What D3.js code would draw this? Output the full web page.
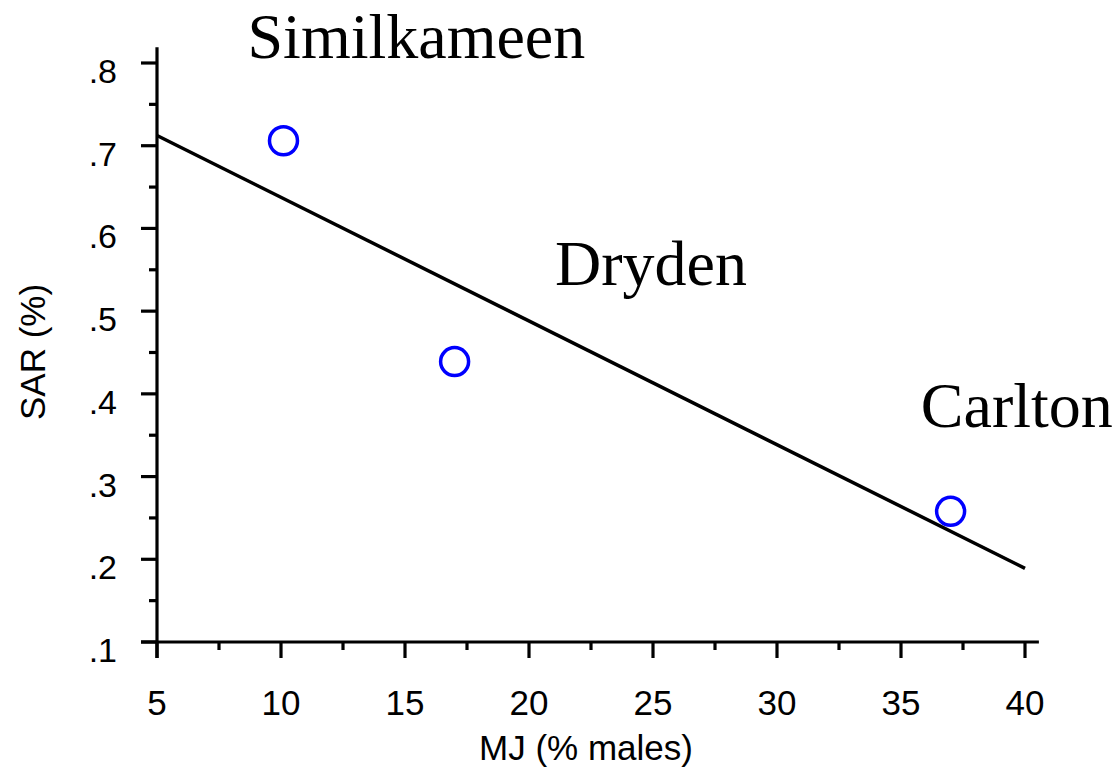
<!DOCTYPE html>
<html>
<head>
<meta charset="utf-8">
<script src="https://cdn.jsdelivr.net/npm/d3@7"></script>
<style>
  html, body { margin: 0; padding: 0; background: #fff; }
  svg { display: block; }
</style>
</head>
<body>
<svg id="chart" width="1118" height="774"></svg>
<script>
// Sites and their measurements
const sites = ["Similkameen", "Dryden", "Carlton"];
const mj = [10.1, 17.0, 37.0];      // MJ (% males)
const sar = [0.706, 0.439, 0.258];  // SAR (%)

// Site label anchor positions in data units (left edge, baseline)
const labelX = [8.65, 21.05, 35.8];
const labelY = [0.806, 0.532, 0.360];

const xTicks = [5, 10, 15, 20, 25, 30, 35, 40];
const xMinor = [7.5, 12.5, 17.5, 22.5, 27.5, 32.5, 37.5];
const yTicks = [0.1, 0.2, 0.3, 0.4, 0.5, 0.6, 0.7, 0.8];
const yMinor = [0.15, 0.25, 0.35, 0.45, 0.55, 0.65, 0.75];
const yTickLabels = [".1", ".2", ".3", ".4", ".5", ".6", ".7", ".8"];

const svg = d3.select("#chart");

const x = d3.scaleLinear().domain([5, 40]).range([157, 1025]);
const y = d3.scaleLinear().domain([0.1, 0.8]).range([642, 63]);

const sans = "'Liberation Sans', Arial, Helvetica, sans-serif";
const serif = "'Liberation Serif', 'Times New Roman', Times, serif";

// Least-squares fit line through the three sites
const mx = d3.mean(mj), my = d3.mean(sar);
const slope = d3.sum(mj.map((v, i) => (v - mx) * (sar[i] - my))) /
              d3.sum(mj.map(v => (v - mx) * (v - mx)));
const intercept = my - slope * mx;
const fitX = [5, 40];

svg.append("line")
  .attr("x1", x(fitX[0])).attr("y1", y(intercept + slope * fitX[0]))
  .attr("x2", x(fitX[1])).attr("y2", y(intercept + slope * fitX[1]))
  .attr("stroke", "#000").attr("stroke-width", 3.5);

// Axes
const axisW = 3.2;
// x axis line extends a little past the last tick
svg.append("line")
  .attr("x1", x(5) - 16).attr("x2", x(40.56))
  .attr("y1", y(0.1)).attr("y2", y(0.1))
  .attr("stroke", "#000").attr("stroke-width", axisW);
svg.append("line")
  .attr("x1", x(5)).attr("x2", x(5))
  .attr("y1", y(0.1) + 16).attr("y2", y(0.819))
  .attr("stroke", "#000").attr("stroke-width", axisW);

const xAxis = svg.append("g");
xAxis.selectAll("line.major").data(xTicks).join("line")
  .attr("class", "major")
  .attr("x1", d => x(d)).attr("x2", d => x(d))
  .attr("y1", y(0.1)).attr("y2", y(0.1) + 16)
  .attr("stroke", "#000").attr("stroke-width", axisW);
xAxis.selectAll("line.minor").data(xMinor).join("line")
  .attr("class", "minor")
  .attr("x1", d => x(d)).attr("x2", d => x(d))
  .attr("y1", y(0.1)).attr("y2", y(0.1) + 8)
  .attr("stroke", "#000").attr("stroke-width", axisW);
xAxis.selectAll("text").data(xTicks).join("text")
  .attr("x", d => x(d)).attr("y", 715)
  .attr("text-anchor", "middle")
  .attr("font-family", sans).attr("font-size", 35)
  .text(d => d);

const yAxis = svg.append("g");
yAxis.selectAll("line.major").data(yTicks).join("line")
  .attr("class", "major")
  .attr("x1", x(5) - 16).attr("x2", x(5))
  .attr("y1", d => y(d)).attr("y2", d => y(d))
  .attr("stroke", "#000").attr("stroke-width", axisW);
yAxis.selectAll("line.minor").data(yMinor).join("line")
  .attr("class", "minor")
  .attr("x1", x(5) - 8).attr("x2", x(5))
  .attr("y1", d => y(d)).attr("y2", d => y(d))
  .attr("stroke", "#000").attr("stroke-width", axisW);
yAxis.selectAll("text").data(yTicks).join("text")
  .attr("x", 117).attr("y", d => y(d) + 20)
  .attr("text-anchor", "end")
  .attr("font-family", sans).attr("font-size", 34)
  .text((d, i) => yTickLabels[i]);

// Axis titles
svg.append("text")
  .attr("x", 586).attr("y", 760)
  .attr("text-anchor", "middle")
  .attr("font-family", sans).attr("font-size", 35)
  .text("MJ (% males)");
svg.append("text")
  .attr("transform", "translate(45,352) rotate(-90)")
  .attr("text-anchor", "middle")
  .attr("font-family", sans).attr("font-size", 35)
  .text("SAR (%)");

// Data points
svg.selectAll("circle.site").data(mj).join("circle")
  .attr("class", "site")
  .attr("cx", d => x(d))
  .attr("cy", (d, i) => y(sar[i]))
  .attr("r", 14)
  .attr("fill", "none")
  .attr("stroke", "#0000ff")
  .attr("stroke-width", 3.5);

// Site names
svg.selectAll("text.site").data(sites).join("text")
  .attr("class", "site")
  .attr("x", (d, i) => x(labelX[i]))
  .attr("y", (d, i) => y(labelY[i]))
  .attr("font-family", serif).attr("font-size", 64)
  .text(d => d);
</script>
</body>
</html>
